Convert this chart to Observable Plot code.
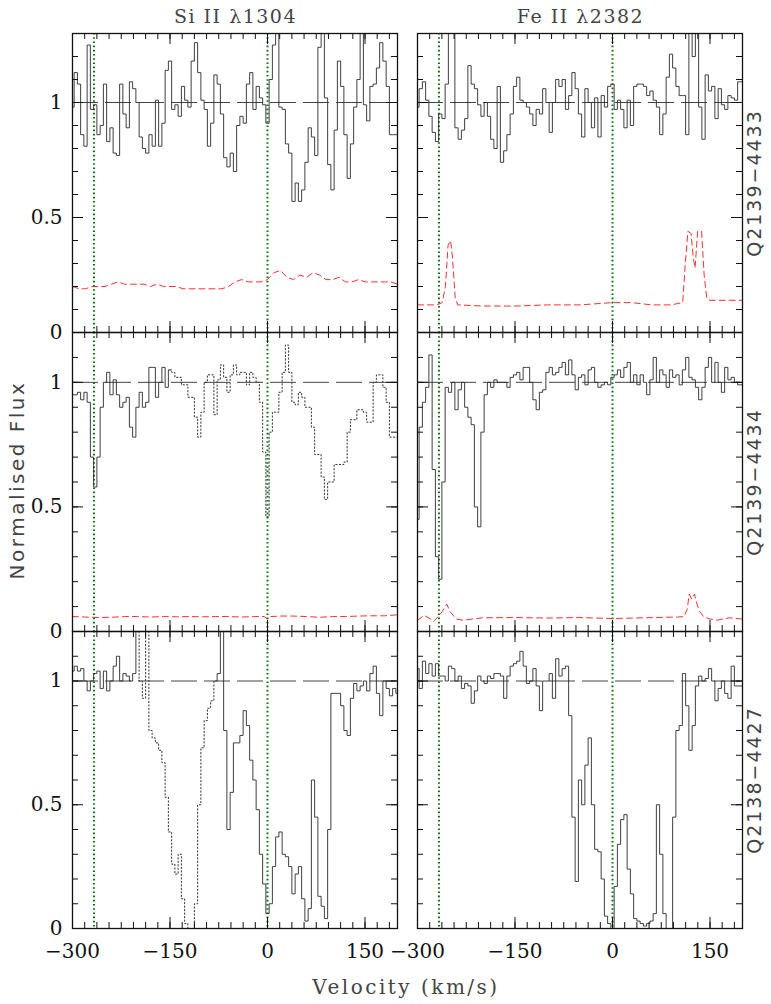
<!DOCTYPE html>
<html><head><meta charset="utf-8">
<script src="https://cdn.jsdelivr.net/npm/d3@7"></script>
<script src="https://cdn.jsdelivr.net/npm/@observablehq/plot@0.6"></script>
<style>
body{margin:0;background:#fff;}
#chart{position:relative;width:771px;height:1004px;overflow:hidden;background:#fff;}
.cell{position:absolute;}
.lbl{position:absolute;white-space:nowrap;transform:translate(-50%,-50%);color:#444;}
.serif{font-family:"DejaVu Serif",serif;}
.sans{font-family:"DejaVu Sans",sans-serif;}
</style></head>
<body><div id="chart"></div>
<script>
// ---------- labels ----------
const transitions = ["Si II  λ1304", "Fe II  λ2382"];
const sightlines = ["Q2139\u22124433", "Q2139\u22124434", "Q2138\u22124427"];
const velocityTicks = [-300, -150, 0, 150];
const fluxTicks = [0, 0.5, 1];
const markerVelocities = [-267, 0];
const yTop = [1.3, 1.2, 1.2];

// ---------- spectra (normalised flux on a 5 km/s grid from v0) ----------
// Top-left: Si II 1304, Q2139-4433
const tlFlux = [0.98,1.13,1.08,0.86,0.81,1.25,0.97,0.99,0.86,0.9,
 1.08,0.83,0.89,0.78,0.77,1.08,0.95,0.89,1.09,1.06,
 1.0,0.85,0.8,0.78,0.86,0.81,1.01,0.81,0.91,1.14,
 1.18,0.97,0.99,0.94,1.07,1.01,0.98,1.18,1.26,1.13,
 1.01,0.97,0.81,0.91,1.12,1.08,0.95,0.76,0.72,0.78,
 0.7,0.9,0.94,0.91,1.08,1.13,0.97,1.07,1.02,0.99,
 0.91,1.1,1.25,1.35,0.98,0.97,0.82,0.78,0.57,0.65,
 0.57,0.62,0.74,0.89,0.85,0.77,1.24,1.35,1.02,0.73,
 0.62,0.88,1.18,1.07,0.86,0.67,0.82,0.98,1.1,1.35,
 0.99,0.92,1.07,1.08,1.15,1.26,1.18,1.07,0.86,0.86,0.86];
const tlErr = [0.2,0.19,0.19,0.2,0.2,0.2,0.21,0.22,0.21,0.21,
 0.21,0.21,0.2,0.21,0.2,0.2,0.2,0.19,0.19,0.19,
 0.19,0.19,0.19,0.19,0.2,0.22,0.23,0.22,0.22,0.22,
 0.23,0.26,0.27,0.24,0.23,0.25,0.24,0.26,0.25,0.23,
 0.23,0.24,0.22,0.22,0.23,0.22,0.22,0.22,0.22,0.22,0.21]; // 10 km/s grid

// Top-right: Fe II 2382, Q2139-4433
const trFlux = [0.98,1.06,1.09,1.01,0.94,0.87,0.83,0.95,0.93,1.08,
 1.35,1.35,0.89,0.84,0.88,0.93,1.16,1.08,1.06,0.99,
 0.94,1.0,0.94,0.84,0.8,1.07,0.74,0.79,0.86,0.95,
 1.07,1.11,1.01,1.0,0.98,0.95,0.9,0.97,0.95,1.06,
 1.0,0.87,1.0,1.1,1.07,1.1,0.97,1.03,1.13,1.06,
 0.95,0.85,1.06,1.0,0.89,1.02,0.85,1.03,0.98,1.07,
 1.08,0.97,1.01,0.97,0.89,1.01,0.9,1.07,1.08,1.08,
 1.07,1.03,1.05,1.01,0.98,0.86,0.95,1.11,1.21,1.15,
 1.07,1.03,1.03,0.86,1.35,1.2,1.35,0.98,0.84,1.12,
 1.05,1.07,0.93,1.06,0.99,0.97,1.03,1.02,1.01,1.09,1.09];
const trErrV = [-300,-270,-262,-257,-253,-249,-246,-242,-238,-200,-150,-100,-50,0,30,60,90,108,112,116,121,124,127,131,137,141,145,150,170,200];
const trErrF = [0.12,0.12,0.13,0.2,0.38,0.4,0.32,0.15,0.12,0.115,0.115,0.12,0.12,0.13,0.13,0.12,0.12,0.13,0.3,0.44,0.43,0.33,0.28,0.44,0.44,0.25,0.15,0.14,0.14,0.14];

// Middle-left: Si II 1304, Q2139-4434 (solid, then blended/dotted)
const mlSolid = [0.95,0.95,0.96,0.93,0.96,0.92,0.70,0.58,0.7,0.9,
 1.0,1.04,0.95,1.01,0.95,0.9,0.92,0.94,0.82,0.78,
 0.9,0.96,0.9,0.92,1.06,1.06,0.94,1.0,1.06,0.98,1.05];
const mlDotted = [1.05,1.04,1.02,1.02,0.99,0.99,0.94,0.94,0.86,0.78,
 0.88,1.0,1.03,1.03,0.87,1.01,1.07,1.02,0.96,1.03,
 1.07,1.03,1.04,1.04,0.99,1.04,1.02,1.0,0.92,0.72,
 0.46,0.8,0.88,0.88,0.96,1.04,1.15,1.04,0.92,0.91,
 0.96,0.94,0.9,0.9,0.82,0.71,0.71,0.62,0.53,0.6,
 0.6,0.67,0.67,0.67,0.68,0.8,0.85,0.85,0.89,0.89,
 0.88,0.84,0.84,1.0,1.03,1.03,0.98,0.92,0.78,0.78,0.78];
const mlErrV = [-300,-280,-260,-240,-220,-200,-180,-160,-140,-120,-100,-80,-60,-40,-20,-5,0,5,20,40,60,80,100,120,140,160,180,200];
const mlErrF = [0.06,0.058,0.056,0.057,0.06,0.06,0.058,0.06,0.059,0.06,0.059,0.06,0.06,0.058,0.06,0.06,0.05,0.06,0.062,0.062,0.06,0.057,0.06,0.06,0.062,0.063,0.063,0.067];

// Middle-right: Fe II 2382, Q2139-4434
const mrFlux = [0.45,0.82,0.92,0.98,1.11,0.65,0.3,0.21,0.6,0.98,
 0.96,1.0,0.89,0.97,1.0,0.9,0.86,0.83,0.5,0.42,
 0.8,0.95,1.0,0.98,1.01,1.0,1.0,1.0,0.98,1.02,
 1.03,1.04,1.01,1.06,1.06,1.0,0.93,0.89,0.96,0.97,
 1.04,1.06,1.03,1.04,1.06,1.08,1.03,1.09,1.03,0.97,
 1.02,1.03,0.99,1.05,1.06,1.0,0.98,0.99,1.0,0.99,
 1.02,1.03,1.05,1.02,1.06,1.08,1.0,1.03,0.99,1.03,
 1.0,0.95,1.01,1.1,1.0,1.05,1.03,0.98,1.05,1.02,
 1.03,0.99,1.05,1.1,1.02,1.01,0.98,0.93,0.98,1.06,
 1.1,1.0,1.08,1.0,0.96,1.06,1.01,1.02,1.0,0.99,0.99];
const mrErrV = [-300,-290,-280,-275,-268,-262,-255,-250,-245,-240,-230,-200,-150,-100,-50,0,50,100,110,115,118,122,126,130,134,140,150,160,180,200];
const mrErrF = [0.045,0.065,0.05,0.04,0.06,0.08,0.11,0.08,0.065,0.05,0.045,0.055,0.056,0.054,0.056,0.052,0.055,0.058,0.06,0.09,0.15,0.13,0.15,0.11,0.08,0.06,0.05,0.045,0.055,0.05];

// Bottom-left: Si II 1304, Q2138-4427 (solid, dotted blend, solid)
const blSolidA = [1.04,1.06,1.04,1.05,1.0,0.96,1.0,1.03,1.04,0.97,
 1.04,0.96,1.0,1.06,1.1,1.0,1.03,1.02,1.0,1.03,1.25];
const blDotted = [1.25,1.0,0.93,1.25,0.8,0.77,0.75,0.72,0.67,0.53,
 0.39,0.26,0.22,0.3,0.12,0.02,0.0,0.0,0.1,0.5,
 0.73,0.84,0.89,0.92,1.0];
const blSolidB = [1.0,1.03,1.25,0.8,0.4,0.55,0.75,0.75,0.78,0.88,
 0.82,0.68,0.6,0.48,0.3,0.18,0.06,0.1,0.25,0.37,
 0.39,0.3,0.29,0.25,0.14,0.22,0.25,0.12,0.03,0.08,
 0.6,0.45,0.13,0.09,0.04,0.4,0.95,0.95,0.95,0.9,
 0.8,0.78,0.93,0.99,0.96,0.98,1.0,0.96,1.03,1.06,
 0.95,0.86,1.0,0.97,0.94,0.97,0.95];

// Bottom-right: Fe II 2382, Q2138-4427
const brFlux = [1.05,0.97,1.08,1.03,1.07,1.02,1.07,1.02,1.02,1.0,
 1.06,1.05,1.0,1.02,0.97,0.99,0.98,0.91,0.96,1.02,
 1.0,0.99,1.02,1.01,1.03,1.03,1.02,0.93,1.02,1.06,
 1.07,1.08,1.12,1.06,0.99,1.0,1.05,0.98,0.88,1.0,
 1.0,1.03,0.93,1.09,1.02,1.05,1.06,0.86,0.45,0.19,
 0.6,0.5,0.66,0.77,0.5,0.32,0.31,0.2,0.05,0.02,
 0.0,0.17,0.34,0.44,0.46,0.24,0.14,0.04,0.03,0.02,
 0.01,0.02,0.03,0.06,0.5,0.3,0.06,0.0,0.0,0.45,
 0.8,0.82,1.03,0.9,0.72,0.82,0.98,1.02,1.0,1.01,
 1.05,1.0,0.92,0.97,1.0,0.95,0.93,1.06,0.98,0.98,0.98];

// ---------- helpers ----------
const grid = (v0, dv, flux) => flux.map((f, i) => ({v: v0 + i * dv, f}));
const knots = (vs, fs) => vs.map((v, i) => ({v, f: fs[i]}));

const panels = [
  {row:0, col:0, solid:[grid(-300,5,tlFlux)], dotted:[], err: grid(-300,10,tlErr)},
  {row:0, col:1, solid:[grid(-300,5,trFlux)], dotted:[], err: knots(trErrV,trErrF)},
  {row:1, col:0, solid:[grid(-300,5,mlSolid)], dotted:[grid(-150,5,mlDotted)], err: knots(mlErrV,mlErrF)},
  {row:1, col:1, solid:[grid(-300,5,mrFlux)], dotted:[], err: knots(mrErrV,mrErrF)},
  {row:2, col:0, solid:[grid(-300,5,blSolidA), grid(-80,5,blSolidB)], dotted:[grid(-200,5,blDotted)], err:null},
  {row:2, col:1, solid:[grid(-300,5,brFlux)], dotted:[], err:null}
];

// ---------- layout ----------
const colX = [72, 417], panelW = 325;
const rowY = [33, 332, 631], rowH = [299, 299, 297];
const chart = document.getElementById("chart");
const fmtV = d => d < 0 ? "\u2212" + (-d) : String(d);

for (const p of panels) {
  const H = rowH[p.row], ymax = yTop[p.row];
  const ml = p.col === 0 ? 50 : 4, mr = 4, mt = 4, mb = p.row === 2 ? 40 : 4;
  const xMinor = d3.range(-300, 200, 18.75);
  const yMinor = d3.range(0, ymax + 0.001, 0.1).map(d => +d.toFixed(2));
  const marks = [
    Plot.ruleY([1], {stroke:"#444", strokeWidth:1, strokeDasharray:"26,7"}),
    Plot.ruleX(markerVelocities, {stroke:"#0a720a", strokeWidth:2, strokeDasharray:"1.6,2.6"})
  ];
  if (p.err) marks.push(Plot.line(p.err, {x:"v", y:"f", stroke:"#ff3030", strokeWidth:1, strokeDasharray:"6,4", clip:true}));
  for (const s of p.dotted) marks.push(Plot.line(s, {x:"v", y:"f", curve:"step", stroke:"#333", strokeWidth:1, strokeDasharray:"1.3,2.2", clip:true}));
  for (const s of p.solid) marks.push(Plot.line(s, {x:"v", y:"f", curve:"step", stroke:"#2a2a2a", strokeWidth:0.9, clip:true}));
  // inward ticks on all four sides
  marks.push(
    Plot.tickX(xMinor, {x:d=>d, insetTop:H-6, stroke:"#111"}),
    Plot.tickX(xMinor, {x:d=>d, insetBottom:H-6, stroke:"#111"}),
    Plot.tickX(velocityTicks, {x:d=>d, insetTop:H-11, stroke:"#111"}),
    Plot.tickX(velocityTicks, {x:d=>d, insetBottom:H-11, stroke:"#111"}),
    Plot.tickY(yMinor, {y:d=>d, insetRight:panelW-6, stroke:"#111"}),
    Plot.tickY(yMinor, {y:d=>d, insetLeft:panelW-6, stroke:"#111"}),
    Plot.tickY(fluxTicks, {y:d=>d, insetRight:panelW-11, stroke:"#111"}),
    Plot.tickY(fluxTicks, {y:d=>d, insetLeft:panelW-11, stroke:"#111"}),
    Plot.frame({stroke:"#111", strokeWidth:1.3})
  );
  if (p.row === 2) marks.push(Plot.axisX({ticks: velocityTicks, anchor:"bottom", label:null, tickSize:0, tickPadding:15, tickFormat: fmtV, fontSize:20, fill:"#111"}));
  if (p.col === 0) marks.push(Plot.axisY({ticks: fluxTicks, anchor:"left", label:null, tickSize:0, tickPadding:10, tickFormat: d => String(d), fontSize:20, fill:"#111"}));

  const svg = Plot.plot({
    width: panelW + ml + mr, height: H + mt + mb,
    marginLeft: ml, marginRight: mr, marginTop: mt, marginBottom: mb,
    x: {domain:[-300, 200], axis:null, label:null},
    y: {domain:[0, ymax], axis:null, label:null},
    style: {background:"none", fontFamily:"DejaVu Serif, serif", fontSize:"20px", overflow:"visible"},
    marks
  });
  const cell = document.createElement("div");
  cell.className = "cell";
  cell.style.left = (colX[p.col] - ml) + "px";
  cell.style.top = (rowY[p.row] - mt) + "px";
  cell.style.width = (panelW + ml + mr) + "px";
  cell.appendChild(svg);
  chart.appendChild(cell);
}

function addLabel(text, x, y, cls, css) {
  const d = document.createElement("div");
  d.className = "lbl " + cls;
  d.textContent = text;
  d.style.left = x + "px"; d.style.top = y + "px";
  Object.assign(d.style, css || {});
  chart.appendChild(d);
}
transitions.forEach((t, i) => addLabel(t, colX[i] + panelW / 2 + 1, 16, "serif", {fontSize:"19px", letterSpacing:"1.5px"}));
sightlines.forEach((s, i) => addLabel(s, 754, rowY[i] + rowH[i] / 2, "sans",
  {fontSize:"19px", letterSpacing:"2px", transform:"translate(-50%,-50%) rotate(-90deg)"}));
addLabel("Normalised Flux", 17, 480, "sans", {fontSize:"20px", letterSpacing:"2.5px", transform:"translate(-50%,-50%) rotate(-90deg)"});
addLabel("Velocity (km/s)", 406, 987, "serif", {fontSize:"20px", letterSpacing:"2.5px"});
</script>
</body></html>
